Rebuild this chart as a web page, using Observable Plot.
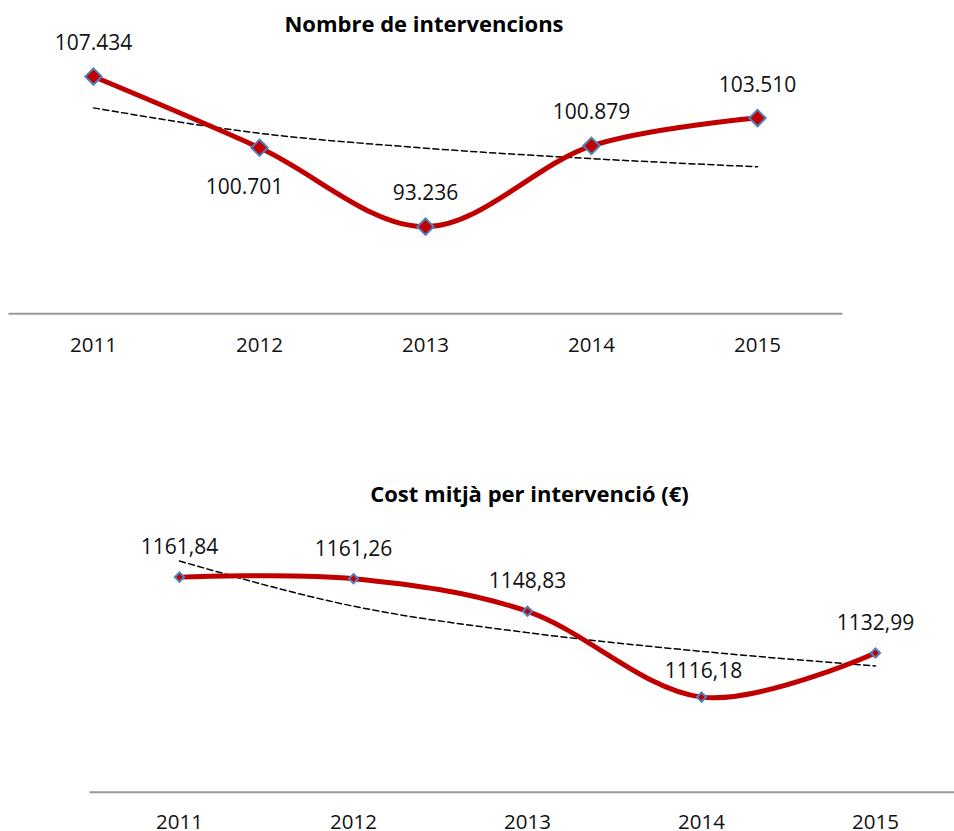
<!DOCTYPE html>
<html>
<head>
<meta charset="utf-8">
<script src="https://cdn.jsdelivr.net/npm/d3@7"></script>
<script src="https://cdn.jsdelivr.net/npm/@observablehq/plot@0.6"></script>
<style>
  html, body { margin: 0; padding: 0; background: #fff; }
  #wrap { position: relative; width: 954px; height: 831px; overflow: hidden; }
  #wrap > svg { position: absolute; left: 0; }
</style>
</head>
<body>
<div id="wrap"></div>
<script>
// ---- data ----
const years = ["2011", "2012", "2013", "2014", "2015"];
const interventions = [107434, 100701, 93236, 100879, 103510];
const interventionsTrend = [104470, 102070, 100660, 99670, 98900];
const cost = [1161.84, 1161.26, 1148.83, 1116.18, 1132.99];
const costTrend = [1167.97, 1150.78, 1140.72, 1133.59, 1128.05];
const titleTop = "Nombre de intervencions";
const titleBottom = "Cost mitjà per intervenció (€)";

const loc = d3.formatLocale({decimal: ",", thousands: ".", grouping: [3], currency: ["", "€"]});
const fmtInt = loc.format(",d");
const fmtDec = loc.format(".2f");

const topData = years.map((y, i) => ({year: y, value: interventions[i], trend: interventionsTrend[i], i}));
const botData = years.map((y, i) => ({year: y, value: cost[i], trend: costTrend[i], i}));

// square rotated 45°, half-diagonal = r
const diamond = {draw(ctx, size) { const r = Math.sqrt(size / Math.PI); ctx.moveTo(0, -r); ctx.lineTo(r, 0); ctx.lineTo(0, r); ctx.lineTo(-r, 0); ctx.closePath(); }};

const RED = "#C00000", BLUE = "#4F81BD", FONT = "Open Sans";
const wrap = document.getElementById("wrap");

function xAxis(pad) {
  return Plot.axisX
    ? Plot.axisX({tickSize: 0, tickPadding: pad, fontSize: 20.5, fill: "#111", label: null})
    : null;
}

// ---- top chart ----
const chartTop = Plot.plot({
  width: 954, height: 400,
  marginLeft: 9, marginRight: 113, marginTop: 48.9, marginBottom: 86.7,
  style: {fontFamily: FONT, fontSize: "20.5px", color: "#111", background: "transparent", overflow: "visible"},
  x: {type: "point", domain: years, range: [9, 841], padding: 0.5, tickSize: 0, tickPadding: 23.4, label: null},
  y: {domain: [85000, 110000], axis: null},
  marks: [
    Plot.frame({anchor: "bottom", stroke: "#979797", strokeWidth: 2}),
    xAxis(23.4),
    Plot.line(topData, {x: "year", y: "trend", curve: "monotone-x", stroke: "#000", strokeWidth: 1.5, strokeDasharray: "6,3.5"}),
    Plot.line(topData, {x: "year", y: "value", curve: "cardinal", stroke: RED, strokeWidth: 5}),
    Plot.dot(topData, {x: "year", y: "value", symbol: diamond, r: 8.2, fill: RED, stroke: BLUE, strokeWidth: 2}),
    Plot.text(topData.filter(d => d.i !== 1), {x: "year", y: "value", text: d => fmtInt(d.value), lineAnchor: "bottom", dy: -26.5, fontSize: 21, fill: "#111"}),
    Plot.text(topData.filter(d => d.i === 1), {x: "year", y: "value", text: d => fmtInt(d.value), lineAnchor: "bottom", dy: 46.3, dx: -15, fontSize: 21, fill: "#111"}),
    Plot.text([titleTop], {frameAnchor: "top", text: d => d, lineAnchor: "bottom", dy: -17, dx: -1.5, fontSize: 22, fontWeight: "bold", fill: "#000"})
  ]
});
chartTop.style.top = "0px";
wrap.appendChild(chartTop);

// ---- bottom chart ----
const chartBot = Plot.plot({
  width: 954, height: 431,
  marginLeft: 90, marginRight: 0, marginTop: 128.9, marginBottom: 39.3,
  style: {fontFamily: FONT, fontSize: "20.5px", color: "#111", background: "transparent", overflow: "visible"},
  x: {type: "point", domain: years, range: [89.5, 964], padding: 0.5, tickSize: 0, tickPadding: 22.5, label: null},
  y: {domain: [1080, 1180], axis: null},
  marks: [
    Plot.frame({anchor: "bottom", stroke: "#979797", strokeWidth: 2}),
    xAxis(22.5),
    Plot.line(botData, {x: "year", y: "trend", curve: "monotone-x", stroke: "#000", strokeWidth: 1.5, strokeDasharray: "6,3.5"}),
    Plot.line(botData, {x: "year", y: "value", curve: "cardinal", stroke: RED, strokeWidth: 5}),
    Plot.dot(botData, {x: "year", y: "value", symbol: diamond, r: 4.6, fill: RED, stroke: BLUE, strokeWidth: 2}),
    Plot.text(botData.filter(d => d.i !== 3), {x: "year", y: "value", text: d => fmtDec(d.value), lineAnchor: "bottom", dy: -23, fontSize: 21, fill: "#111"}),
    Plot.text(botData.filter(d => d.i === 3), {x: "year", y: "value", text: d => fmtDec(d.value), lineAnchor: "bottom", dy: -19, dx: 2, fontSize: 21, fill: "#111"}),
    Plot.text([titleBottom], {frameAnchor: "top", text: d => d, lineAnchor: "bottom", dy: -27.4, dx: 7, fontSize: 22, fontWeight: "bold", fill: "#000"})
  ]
});
chartBot.style.top = "400px";
wrap.appendChild(chartBot);
</script>
</body>
</html>
